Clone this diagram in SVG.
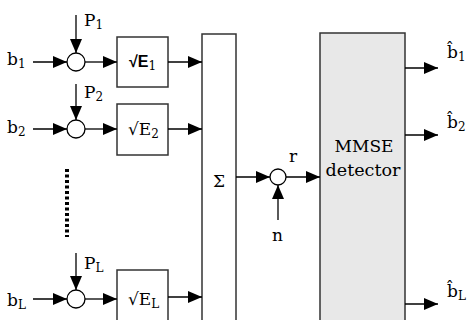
<svg xmlns="http://www.w3.org/2000/svg" width="467" height="320" viewBox="0 0 467 320">
<style>
.ln{stroke:#000;stroke-width:1.3;fill:none}
.bx{stroke:#333;stroke-width:1.5;fill:#fff}
.cr{stroke:#000;stroke-width:1.3;fill:#fff}
.t{font-family:"DejaVu Serif","Liberation Serif",serif;font-size:17px;fill:#000}
.s{font-size:12px}
</style>
<defs>
<marker id="ah" markerUnits="userSpaceOnUse" markerWidth="14" markerHeight="12" refX="14" refY="6" orient="auto">
<path d="M0,0 L14,6 L0,12 z" fill="#000"/>
</marker>
</defs>
<g id="sum">
<rect class="bx" x="202" y="34" width="34" height="300"/>
<text class="t" x="213" y="187" font-size="19">Σ</text>
</g>
<g id="mmse">
<rect x="320" y="33" width="85" height="300" fill="#e8e8e8" stroke="#333" stroke-width="1.5"/>
<text class="t" x="364" y="152" text-anchor="middle" font-size="18">MMSE</text>
<text class="t" x="363" y="176" text-anchor="middle" font-size="18" textLength="75" lengthAdjust="spacingAndGlyphs">detector</text>
</g>
<g id="row1">
<text class="t" x="7" y="65">b<tspan class="s" dy="3">1</tspan></text>
<circle class="cr" cx="76" cy="62" r="9"/>
<text class="t" x="84" y="26">P<tspan class="s" dy="3">1</tspan></text>
<rect class="bx" x="117" y="37" width="51" height="50"/>
<text class="t" x="129" y="67"><tspan font-family="Liberation Sans,sans-serif" font-weight="bold" font-size="16">√E</tspan><tspan class="s" dy="3">1</tspan></text>
</g>
<g id="row2">
<text class="t" x="7" y="133">b<tspan class="s" dy="3">2</tspan></text>
<circle class="cr" cx="76" cy="129" r="9"/>
<text class="t" x="84" y="98">P<tspan class="s" dy="3">2</tspan></text>
<rect class="bx" x="117" y="104" width="51" height="51"/>
<text class="t" x="128" y="135">√E<tspan class="s" dy="3">2</tspan></text>
</g>
<g id="dots">
<line x1="67" y1="169" x2="67" y2="237" stroke="#000" stroke-width="4" stroke-dasharray="3,2.5"/>
</g>
<g id="rowL">
<text class="t" x="7" y="306">b<tspan class="s" dy="3">L</tspan></text>
<circle class="cr" cx="76" cy="299" r="9"/>
<text class="t" x="84" y="269">P<tspan class="s" dy="3">L</tspan></text>
<rect class="bx" x="117" y="270" width="51" height="60"/>
<text class="t" x="128" y="305">√E<tspan class="s" dy="3">L</tspan></text>
</g>
<g id="adder">
<circle class="cr" cx="278" cy="177" r="8"/>
<text class="t" x="289" y="162">r</text>
<text class="t" x="272" y="241">n</text>
</g>
<g id="outputs">
<text class="t" x="447" y="58">b&#x302;<tspan class="s" dy="3">1</tspan></text>
<text class="t" x="447" y="128">b&#x302;<tspan class="s" dy="3">2</tspan></text>
<text class="t" x="447" y="297">b&#x302;<tspan class="s" dy="3">L</tspan></text>
</g>
<g id="connectors">
<line class="ln" x1="33" y1="62" x2="67" y2="62" marker-end="url(#ah)"/>
<line class="ln" x1="76" y1="15" x2="76" y2="53" marker-end="url(#ah)"/>
<line class="ln" x1="85" y1="62" x2="117" y2="62" marker-end="url(#ah)"/>
<line class="ln" x1="168" y1="62" x2="202" y2="62" marker-end="url(#ah)"/>
<line class="ln" x1="33" y1="129" x2="67" y2="129" marker-end="url(#ah)"/>
<line class="ln" x1="76" y1="84" x2="76" y2="120" marker-end="url(#ah)"/>
<line class="ln" x1="85" y1="129" x2="117" y2="129" marker-end="url(#ah)"/>
<line class="ln" x1="168" y1="129" x2="202" y2="129" marker-end="url(#ah)"/>
<line class="ln" x1="33" y1="299" x2="67" y2="299" marker-end="url(#ah)"/>
<line class="ln" x1="76" y1="253" x2="76" y2="290" marker-end="url(#ah)"/>
<line class="ln" x1="85" y1="299" x2="117" y2="299" marker-end="url(#ah)"/>
<line class="ln" x1="168" y1="297" x2="202" y2="297" marker-end="url(#ah)"/>
<line class="ln" x1="236" y1="177" x2="270" y2="177" marker-end="url(#ah)"/>
<line class="ln" x1="278" y1="220" x2="278" y2="185" marker-end="url(#ah)"/>
<line class="ln" x1="286" y1="177" x2="320" y2="177" marker-end="url(#ah)"/>
<line class="ln" x1="405" y1="68" x2="438" y2="68" marker-end="url(#ah)"/>
<line class="ln" x1="405" y1="135" x2="438" y2="135" marker-end="url(#ah)"/>
<line class="ln" x1="405" y1="304" x2="438" y2="304" marker-end="url(#ah)"/>
</g>
</svg>
